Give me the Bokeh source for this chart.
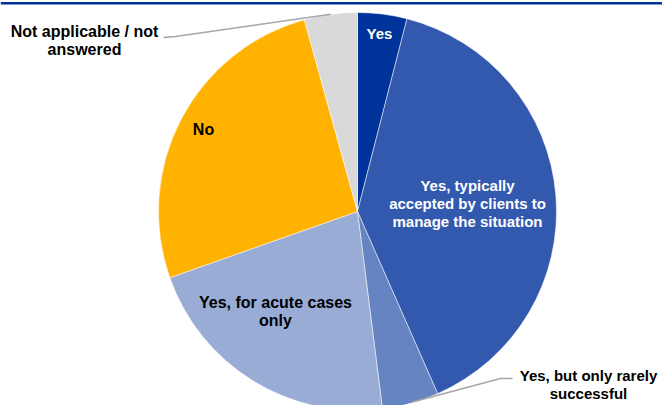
import math
from bokeh.plotting import figure
from bokeh.models import ColumnDataSource, Range1d, Span
from bokeh.core.properties import value
from bokeh.embed import file_html
from bokeh.resources import INLINE

# ---- data ----
categories = ["Yes",
              "Yes, typically accepted by clients to manage the situation",
              "Yes, but only rarely successful",
              "Yes, for acute cases only",
              "No",
              "Not applicable / not answered"]
shares = [4.0, 39.4, 4.6, 21.6, 26.1, 4.3]
colors = ["#003399", "#3359AE", "#6683C2", "#99ACD6", "#FFB300", "#D9D9D9"]

# label lines for each slice
label_lines = [["Yes"],
               ["Yes, typically", "accepted by clients to", "manage the situation"],
               ["Yes, but only rarely", "successful"],
               ["Yes, for acute cases", "only"],
               ["No"],
               ["Not applicable / not", "answered"]]
label_colors = ["white", "white", "black", "black", "black", "black"]
label_sizes = ["15px", "15px", "15px", "16px", "16px", "16px"]

W, H = 662, 405
cx, cy, R = 357, H - 211, 199

# label anchor (centre of text block, in page pixels, y downward) and line spacing
label_pos = [(379, 33), (467, 203), (588, 384), (275, 311), (203, 129), (84, 40)]
line_gap = 18

p = figure(width=W, height=H, x_range=Range1d(0, W), y_range=Range1d(0, H),
           output_backend="svg", toolbar_location=None, min_border=0)
p.axis.visible = False
p.grid.visible = False
p.outline_line_color = None
p.background_fill_color = "white"

total = sum(shares)
starts, ends = [], []
cum = 0.0
for s in shares:
    a0 = cum / total * 2 * math.pi
    cum += s
    a1 = cum / total * 2 * math.pi
    starts.append(math.pi / 2 - a0)
    ends.append(math.pi / 2 - a1)

src = ColumnDataSource(dict(start=starts, end=ends, color=colors, cat=categories))
p.wedge(x=cx, y=cy, radius=R, start_angle="start", end_angle="end",
        direction="clock", fill_color="color", line_color="white", line_width=0.5,
        source=src)

# leader lines (page pixel coords, y downward)
def mid_point(i, frac=1.0):
    a = (sum(shares[:i]) + shares[i] / 2) / total * 2 * math.pi
    return cx + R * frac * math.sin(a), cy + R * frac * math.cos(a)

ex, ey = mid_point(5)
p.line([163, 175, ex], [H - 37, H - 36, ey], line_color="#A6A6A6", line_width=1.5)
ex, ey = mid_point(2)
p.line([512, 500, ex + 1], [H - 378, H - 378, ey + 1], line_color="#A6A6A6", line_width=1.5)

# labels
tx, ty, tt, tc, ts = [], [], [], [], []
for lines, (lx, ly), col, sz in zip(label_lines, label_pos, label_colors, label_sizes):
    n = len(lines)
    for k, ln in enumerate(lines):
        tx.append(lx)
        ty.append(H - (ly + (k - (n - 1) / 2) * line_gap))
        tt.append(ln)
        tc.append(col)
        ts.append(sz)
tsrc = ColumnDataSource(dict(x=tx, y=ty, text=tt, color=tc, size=ts))
p.text(x="x", y="y", text="text", text_color="color", source=tsrc,
       text_align="center", text_baseline="middle",
       text_font=value("Liberation Sans"), text_font_style="bold",
       text_font_size="size")

# top rule
p.add_layout(Span(location=H - 2.8, dimension="width", line_color="#003399", line_width=2.5))

open("out.html", "w").write(file_html(p, INLINE))
